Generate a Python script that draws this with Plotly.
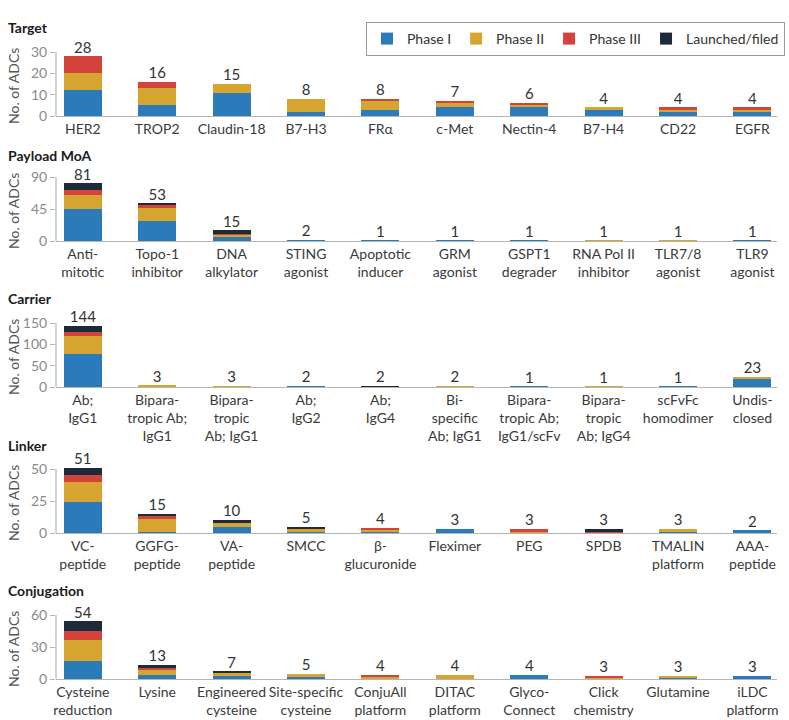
import plotly.graph_objects as go

# ---------------- data ----------------
series_names = ["Phase I", "Phase II", "Phase III", "Launched/filed"]
colors = ["#2b7bba", "#d6a530", "#d1433b", "#1d2a3a"]

target_cats = ["HER2", "TROP2", "Claudin-18", "B7-H3", "FRα", "c-Met", "Nectin-4", "B7-H4", "CD22", "EGFR"]
target_p1 = [12, 5, 11, 2, 3, 4, 4, 3, 2, 2]
target_p2 = [8, 8, 4, 6, 4, 2, 1, 1, 1, 1]
target_p3 = [8, 3, 0, 0, 1, 1, 1, 0, 1, 1]
target_ln = [0, 0, 0, 0, 0, 0, 0, 0, 0, 0]
target_ticks = [0, 10, 20, 30]

payload_cats = ["Anti-<br>mitotic", "Topo-1<br>inhibitor", "DNA<br>alkylator", "STING<br>agonist",
                "Apoptotic<br>inducer", "GRM<br>agonist", "GSPT1<br>degrader", "RNA Pol II<br>inhibitor",
                "TLR7/8<br>agonist", "TLR9<br>agonist"]
payload_p1 = [45, 28, 6, 2, 1, 1, 1, 0, 0, 1]
payload_p2 = [20, 18, 3, 0, 0, 0, 0, 1, 1, 0]
payload_p3 = [7, 6, 1, 0, 0, 0, 0, 0, 0, 0]
payload_ln = [9, 1, 5, 0, 0, 0, 0, 0, 0, 0]
payload_ticks = [0, 45, 90]

carrier_cats = ["Ab;<br>IgG1", "Bipara-<br>tropic Ab;<br>IgG1", "Bipara-<br>tropic<br>Ab; IgG1", "Ab;<br>IgG2",
                "Ab;<br>IgG4", "Bi-<br>specific<br>Ab; IgG1", "Bipara-<br>tropic Ab;<br>IgG1/scFv",
                "Bipara-<br>tropic<br>Ab; IgG4", "scFvFc<br>homodimer", "Undis-<br>closed"]
carrier_p1 = [78, 1, 0, 2, 1, 0, 1, 0, 1, 21]
carrier_p2 = [42, 2, 3, 0, 0, 2, 0, 1, 0, 2]
carrier_p3 = [10, 0, 0, 0, 0, 0, 0, 0, 0, 0]
carrier_ln = [14, 0, 0, 0, 1, 0, 0, 0, 0, 0]
carrier_ticks = [0, 50, 100, 150]

linker_cats = ["VC-<br>peptide", "GGFG-<br>peptide", "VA-<br>peptide", "SMCC", "β-<br>glucuronide",
               "Fleximer", "PEG", "SPDB", "TMALIN<br>platform", "AAA-<br>peptide"]
linker_p1 = [24, 1, 5, 1, 1, 3, 0, 0, 1, 2]
linker_p2 = [16, 10, 3, 2, 1, 0, 1, 0, 2, 0]
linker_p3 = [5, 3, 0, 0, 2, 0, 2, 1, 0, 0]
linker_ln = [6, 1, 2, 2, 0, 0, 0, 2, 0, 0]
linker_ticks = [0, 25, 50]

conj_cats = ["Cysteine<br>reduction", "Lysine", "Engineered<br>cysteine", "Site-specific<br>cysteine",
             "ConjuAll<br>platform", "DITAC<br>platform", "Glyco-<br>Connect", "Click<br>chemistry",
             "Glutamine", "iLDC<br>platform"]
conj_p1 = [17, 4, 3, 2, 1, 0, 4, 0, 1, 3]
conj_p2 = [20, 4, 3, 3, 1, 4, 0, 1, 2, 0]
conj_p3 = [8, 2, 0, 0, 2, 0, 0, 2, 0, 0]
conj_ln = [9, 3, 1, 0, 0, 0, 0, 0, 0, 0]
conj_ticks = [0, 30, 60]

panels = [
    ("Target", target_cats, [target_p1, target_p2, target_p3, target_ln], target_ticks),
    ("Payload MoA", payload_cats, [payload_p1, payload_p2, payload_p3, payload_ln], payload_ticks),
    ("Carrier", carrier_cats, [carrier_p1, carrier_p2, carrier_p3, carrier_ln], carrier_ticks),
    ("Linker", linker_cats, [linker_p1, linker_p2, linker_p3, linker_ln], linker_ticks),
    ("Conjugation", conj_cats, [conj_p1, conj_p2, conj_p3, conj_ln], conj_ticks),
]

# ---------------- layout geometry (pixels) ----------------
W, H = 789, 720
ML, MR = 56, 12
PW = W - ML - MR
base_px = [116, 241, 387, 533, 679]     # baseline y pixel of each panel
span_px = 64                            # pixels from 0 to top tick
headroom = 1.08
title_px = [28, 155, 298, 445, 590]

FONT = "Lato"
fig = go.Figure()
annotations = []
shapes = []

for i, (title, cats, vals, ticks) in enumerate(panels):
    xa = "x" if i == 0 else f"x{i+1}"
    ya = "y" if i == 0 else f"y{i+1}"
    for s in range(4):
        fig.add_trace(go.Bar(
            x=cats, y=vals[s], name=series_names[s], marker=dict(color=colors[s], line=dict(width=0)),
            xaxis=xa, yaxis=ya, showlegend=(i == 0), legendgroup=series_names[s],
            hoverinfo="skip"))
    totals = [sum(v) for v in zip(*vals)]
    fig.add_trace(go.Scatter(
        x=cats, y=totals, mode="text", text=[str(t) for t in totals], textposition="top center",
        textfont=dict(family=FONT, size=15, color="#333333"), xaxis=xa, yaxis=ya,
        showlegend=False, cliponaxis=False, hoverinfo="skip"))

    top = ticks[-1]
    rng = top * headroom
    y0 = 1 - base_px[i] / H
    y1 = 1 - (base_px[i] - span_px * headroom) / H
    suffix = "" if i == 0 else str(i + 1)
    fig.layout["xaxis" + suffix] = dict(
        domain=[0, 1], anchor=ya, type="category", range=[-0.36, 9.33],
        showline=True, linecolor="#b5b5b5", linewidth=1.2, ticks="", showgrid=False,
        tickfont=dict(family=FONT, size=14, color="#3a3a3a"), automargin=False, fixedrange=True)
    fig.layout["yaxis" + suffix] = dict(
        domain=[y0, y1], anchor=xa, range=[0, rng], tickvals=ticks, ticks="outside",
        ticklen=5, tickwidth=1.2, tickcolor="#b5b5b5", showgrid=False, zeroline=False,
        showline=False, tickfont=dict(family=FONT, size=14, color="#8a8a8a"), automargin=False)
    shapes.append(dict(type="line", xref=f"{xa} domain", yref=ya, x0=0, x1=0, y0=0, y1=top,
                       line=dict(color="#b5b5b5", width=1.2)))
    annotations.append(dict(text=f"<b>{title}</b>", xref="paper", yref="paper",
                            x=(6 - ML) / PW, y=1 - title_px[i] / H, xanchor="left", yanchor="middle",
                            showarrow=False, font=dict(family=FONT, size=14, color="#1a1a1a")))
    annotations.append(dict(text="No. of ADCs", xref="paper", yref="paper", textangle=-90,
                            x=(13 - ML) / PW, y=1 - (base_px[i] - 30) / H, xanchor="center",
                            yanchor="middle", showarrow=False,
                            font=dict(family=FONT, size=14, color="#555555")))

fig.update_layout(
    width=W, height=H, margin=dict(l=ML, r=MR, t=0, b=0, autoexpand=False),
    barmode="stack", bargap=0.49, plot_bgcolor="white", paper_bgcolor="white",
    annotations=annotations, shapes=shapes,
    legend=dict(orientation="h", x=(366 - ML) / PW, y=1 - 22 / H, xanchor="left", yanchor="top",
                bordercolor="#9a9a9a", borderwidth=1, font=dict(family=FONT, size=14, color="#333333"),
                itemwidth=30, traceorder="normal"),
    font=dict(family=FONT),
)

fig.write_html("out.html")
